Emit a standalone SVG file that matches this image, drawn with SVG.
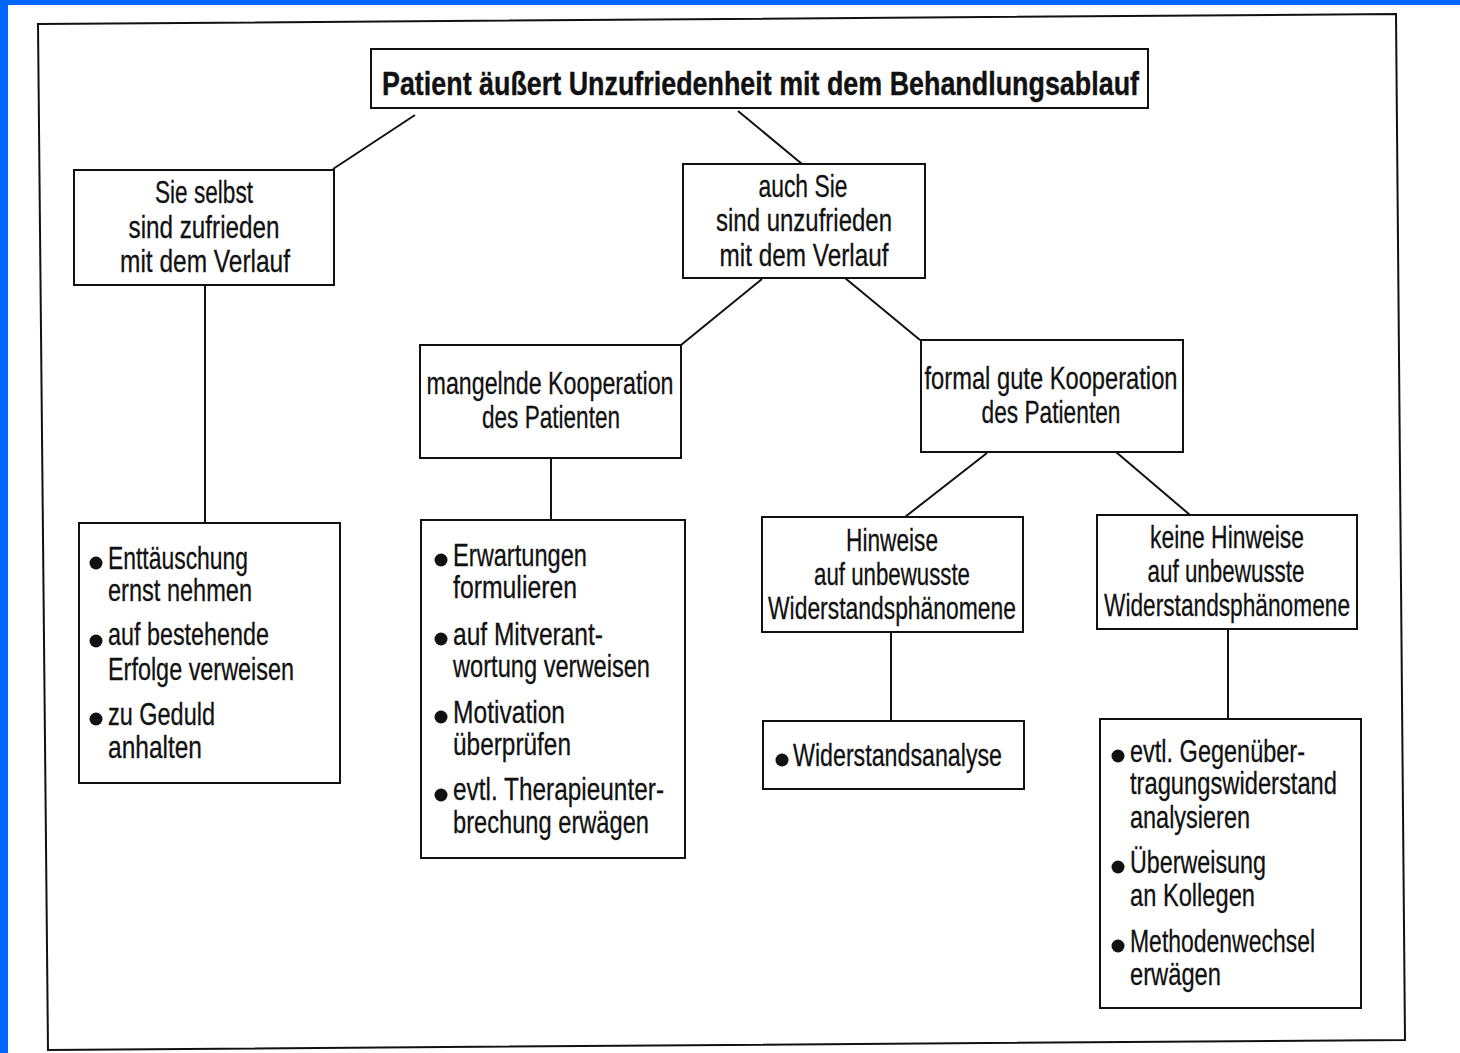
<svg xmlns="http://www.w3.org/2000/svg" width="1460" height="1053" viewBox="0 0 1460 1053">
<style>
.bx{fill:#fff;stroke:#111;stroke-width:2}
.ln{stroke:#111;stroke-width:2;fill:none}
.t{font-family:"Liberation Sans Narrow","Liberation Sans",Arial,sans-serif;font-size:32px;fill:#111;stroke:#111;stroke-width:0.3}
.c{text-anchor:middle}
.b{font-weight:bold;font-size:34px;stroke-width:0.4}
.dot{fill:#111}
</style>
<rect x="0" y="0" width="1460" height="1053" fill="#fff"/>
<rect x="0" y="0" width="1460" height="5" fill="#0066ff"/>
<rect x="0" y="0" width="8" height="1053" fill="#0066ff"/>
<polygon points="38,24 1396,14 1405,1040 48,1050" fill="none" stroke="#111" stroke-width="2"/>
<g id="connectors">
<line class="ln" x1="415" y1="115" x2="333" y2="169"/>
<line class="ln" x1="738" y1="111" x2="802" y2="164"/>
<line class="ln" x1="205" y1="285" x2="205" y2="523"/>
<line class="ln" x1="762" y1="279" x2="681" y2="345"/>
<line class="ln" x1="845" y1="278" x2="920" y2="340"/>
<line class="ln" x1="551" y1="458" x2="551" y2="520"/>
<line class="ln" x1="987" y1="453" x2="905" y2="517"/>
<line class="ln" x1="1116" y1="452" x2="1190" y2="515"/>
<line class="ln" x1="891" y1="632" x2="891" y2="721"/>
<line class="ln" x1="1228" y1="629" x2="1228" y2="719"/>
</g>
<g id="n-top">
<rect class="bx" x="371" y="49" width="777" height="59"/>
<text class="t b" x="382" y="95" textLength="757" lengthAdjust="spacingAndGlyphs">Patient äußert Unzufriedenheit mit dem Behandlungsablauf</text>
</g>
<g id="n-zufrieden">
<rect class="bx" x="74" y="170" width="260" height="115"/>
<text class="t c" x="204" y="203" textLength="98" lengthAdjust="spacingAndGlyphs">Sie selbst</text>
<text class="t c" x="204" y="238" textLength="151" lengthAdjust="spacingAndGlyphs">sind zufrieden</text>
<text class="t c" x="205" y="272" textLength="170" lengthAdjust="spacingAndGlyphs">mit dem Verlauf</text>
</g>
<g id="n-unzufrieden">
<rect class="bx" x="683" y="164" width="242" height="114"/>
<text class="t c" x="803" y="197" textLength="89" lengthAdjust="spacingAndGlyphs">auch Sie</text>
<text class="t c" x="804" y="231" textLength="176" lengthAdjust="spacingAndGlyphs">sind unzufrieden</text>
<text class="t c" x="804" y="266" textLength="169" lengthAdjust="spacingAndGlyphs">mit dem Verlauf</text>
</g>
<g id="n-mangelnd">
<rect class="bx" x="420" y="345" width="261" height="113"/>
<text class="t c" x="550" y="394" textLength="247" lengthAdjust="spacingAndGlyphs">mangelnde Kooperation</text>
<text class="t c" x="551" y="428" textLength="138" lengthAdjust="spacingAndGlyphs">des Patienten</text>
</g>
<g id="n-formal">
<rect class="bx" x="921" y="340" width="262" height="112"/>
<text class="t c" x="1051" y="389" textLength="253" lengthAdjust="spacingAndGlyphs">formal gute Kooperation</text>
<text class="t c" x="1051" y="423" textLength="139" lengthAdjust="spacingAndGlyphs">des Patienten</text>
</g>
<g id="n-hinweise">
<rect class="bx" x="762" y="517" width="261" height="115"/>
<text class="t c" x="892" y="551" textLength="92" lengthAdjust="spacingAndGlyphs">Hinweise</text>
<text class="t c" x="892" y="585" textLength="156" lengthAdjust="spacingAndGlyphs">auf unbewusste</text>
<text class="t c" x="892" y="619" textLength="248" lengthAdjust="spacingAndGlyphs">Widerstandsphänomene</text>
</g>
<g id="n-keine">
<rect class="bx" x="1097" y="515" width="260" height="114"/>
<text class="t c" x="1227" y="548" textLength="154" lengthAdjust="spacingAndGlyphs">keine Hinweise</text>
<text class="t c" x="1226" y="582" textLength="157" lengthAdjust="spacingAndGlyphs">auf unbewusste</text>
<text class="t c" x="1227" y="616" textLength="246" lengthAdjust="spacingAndGlyphs">Widerstandsphänomene</text>
</g>
<g id="n-list-zufrieden">
<rect class="bx" x="79" y="523" width="261" height="260"/>
<circle class="dot" cx="96" cy="563" r="6.5"/>
<text class="t" x="108" y="569" textLength="140" lengthAdjust="spacingAndGlyphs">Enttäuschung</text>
<text class="t" x="108" y="601" textLength="144" lengthAdjust="spacingAndGlyphs">ernst nehmen</text>
<circle class="dot" cx="96" cy="641" r="6.5"/>
<text class="t" x="108" y="645" textLength="161" lengthAdjust="spacingAndGlyphs">auf bestehende</text>
<text class="t" x="108" y="680" textLength="186" lengthAdjust="spacingAndGlyphs">Erfolge verweisen</text>
<circle class="dot" cx="96" cy="719" r="6.5"/>
<text class="t" x="108" y="725" textLength="107" lengthAdjust="spacingAndGlyphs">zu Geduld</text>
<text class="t" x="108" y="758" textLength="94" lengthAdjust="spacingAndGlyphs">anhalten</text>
</g>
<g id="n-list-mangelnd">
<rect class="bx" x="421" y="520" width="264" height="338"/>
<circle class="dot" cx="441" cy="560" r="6.5"/>
<text class="t" x="453" y="566" textLength="134" lengthAdjust="spacingAndGlyphs">Erwartungen</text>
<text class="t" x="453" y="598" textLength="124" lengthAdjust="spacingAndGlyphs">formulieren</text>
<circle class="dot" cx="441" cy="639" r="6.5"/>
<text class="t" x="453" y="645" textLength="150" lengthAdjust="spacingAndGlyphs">auf Mitverant-</text>
<text class="t" x="453" y="677" textLength="197" lengthAdjust="spacingAndGlyphs">wortung verweisen</text>
<circle class="dot" cx="441" cy="717" r="6.5"/>
<text class="t" x="453" y="723" textLength="112" lengthAdjust="spacingAndGlyphs">Motivation</text>
<text class="t" x="453" y="755" textLength="118" lengthAdjust="spacingAndGlyphs">überprüfen</text>
<circle class="dot" cx="441" cy="795" r="6.5"/>
<text class="t" x="453" y="800" textLength="211" lengthAdjust="spacingAndGlyphs">evtl. Therapieunter-</text>
<text class="t" x="453" y="833" textLength="196" lengthAdjust="spacingAndGlyphs">brechung erwägen</text>
</g>
<g id="n-widerstandsanalyse">
<rect class="bx" x="763" y="721" width="261" height="68"/>
<circle class="dot" cx="782" cy="760" r="6.5"/>
<text class="t" x="793" y="766" textLength="209" lengthAdjust="spacingAndGlyphs">Widerstandsanalyse</text>
</g>
<g id="n-list-keine">
<rect class="bx" x="1100" y="719" width="261" height="289"/>
<circle class="dot" cx="1118" cy="756" r="6.5"/>
<text class="t" x="1130" y="762" textLength="175" lengthAdjust="spacingAndGlyphs">evtl. Gegenüber-</text>
<text class="t" x="1130" y="794" textLength="207" lengthAdjust="spacingAndGlyphs">tragungswiderstand</text>
<text class="t" x="1130" y="828" textLength="120" lengthAdjust="spacingAndGlyphs">analysieren</text>
<circle class="dot" cx="1118" cy="867" r="6.5"/>
<text class="t" x="1130" y="873" textLength="136" lengthAdjust="spacingAndGlyphs">Überweisung</text>
<text class="t" x="1130" y="906" textLength="125" lengthAdjust="spacingAndGlyphs">an Kollegen</text>
<circle class="dot" cx="1118" cy="946" r="6.5"/>
<text class="t" x="1130" y="952" textLength="185" lengthAdjust="spacingAndGlyphs">Methodenwechsel</text>
<text class="t" x="1130" y="985" textLength="91" lengthAdjust="spacingAndGlyphs">erwägen</text>
</g>
</svg>
